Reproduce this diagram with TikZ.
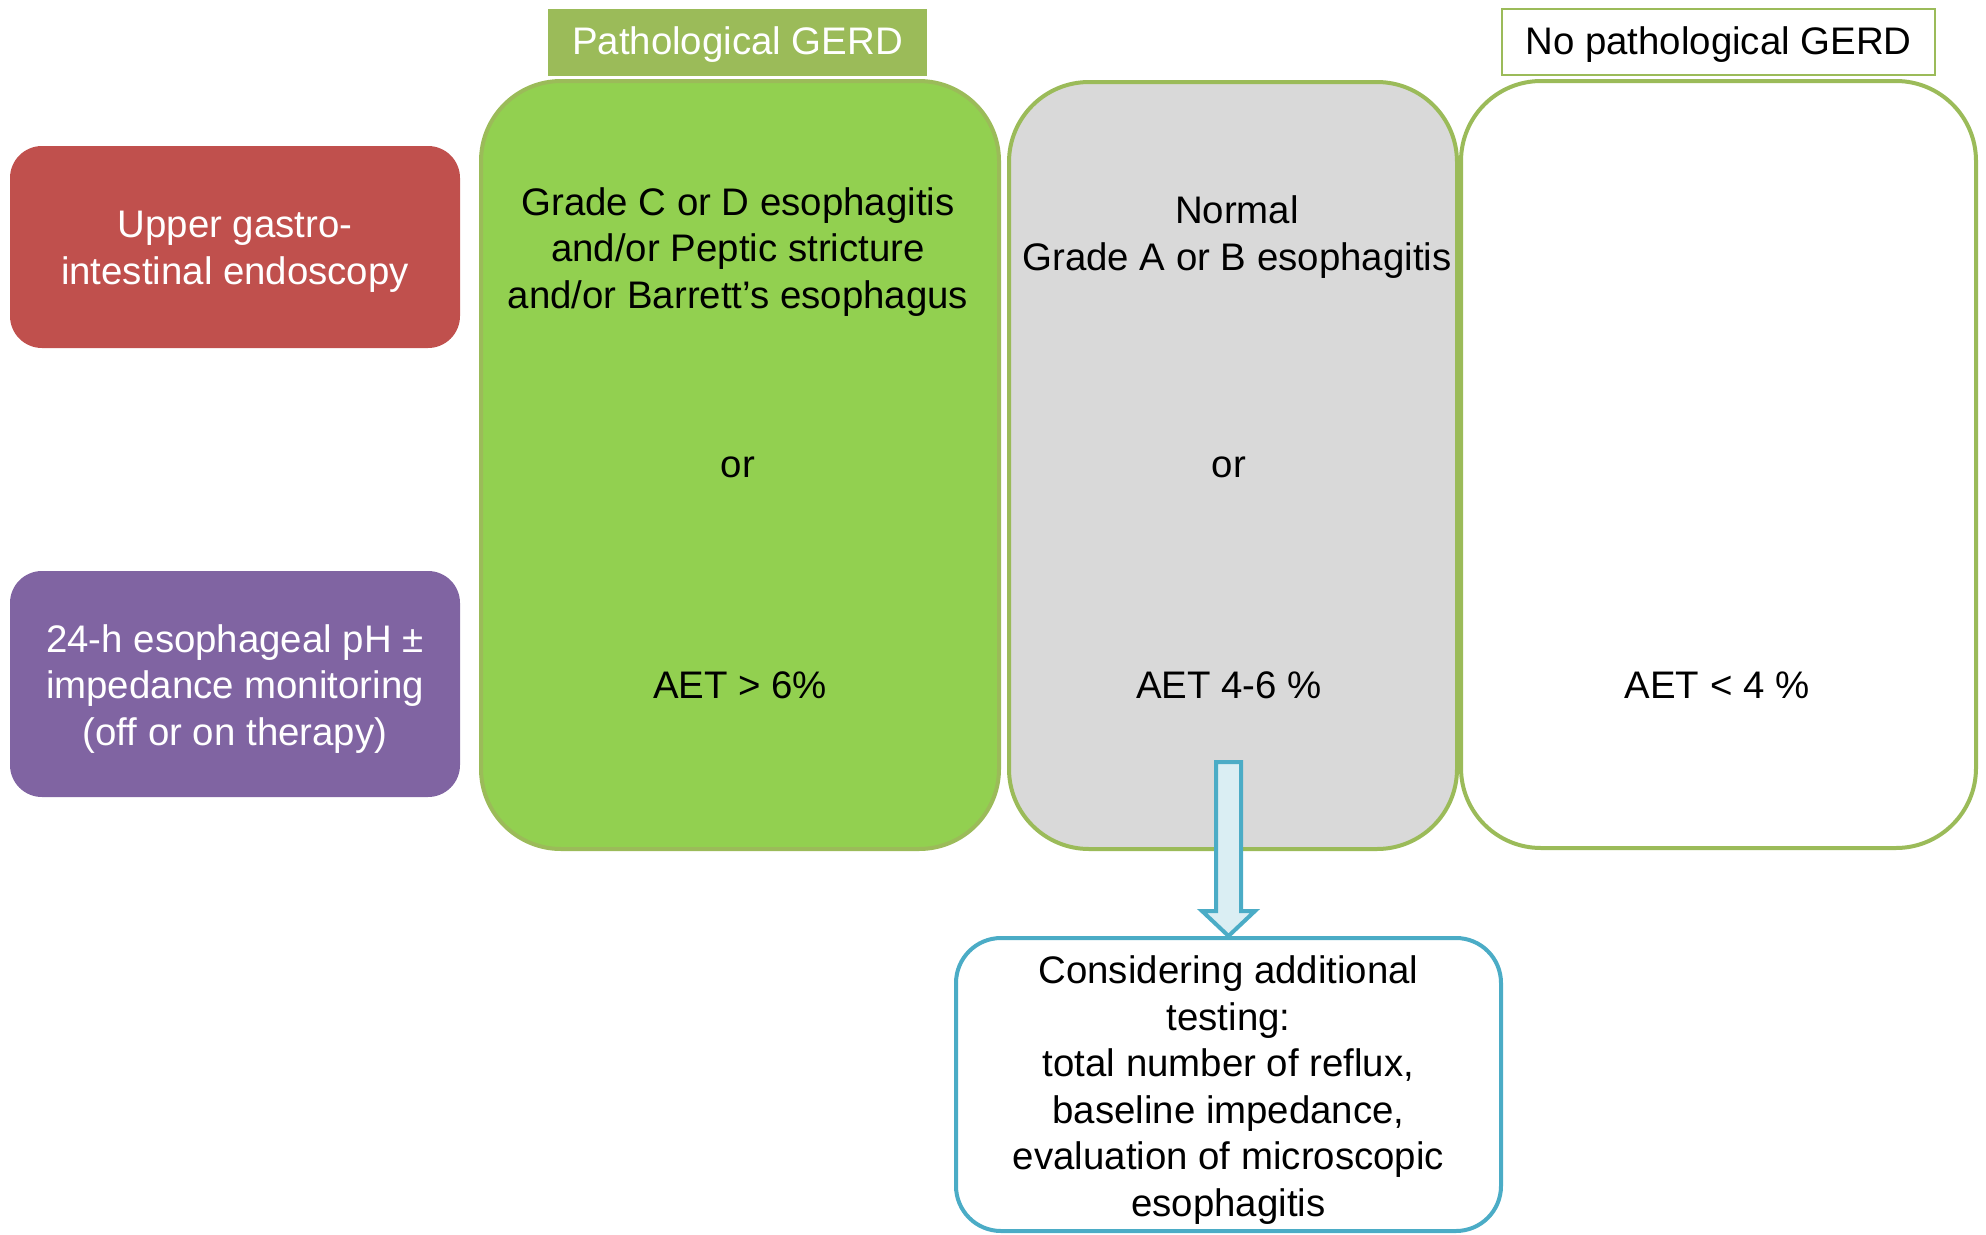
\documentclass[tikz,border=0pt]{standalone}
\usepackage{fontspec}
\setmainfont{Liberation Sans}
\usetikzlibrary{calc}
\definecolor{cred}{HTML}{C0504D}
\definecolor{cpurple}{HTML}{8064A2}
\definecolor{cgreen}{HTML}{92D050}
\definecolor{gline}{HTML}{9BBB59}
\definecolor{cgray}{HTML}{D9D9D9}
\definecolor{ccyan}{HTML}{4BACC6}
\definecolor{carrow}{HTML}{DAEEF3}
\begin{document}
\begin{tikzpicture}[x=1pt,y=-1pt,
  every node/.style={font=\fontsize{38.4}{46.5}\selectfont, align=center, inner sep=0pt},
  side/.style={rounded corners=32pt, minimum width=450pt},
  wtext/.style={text=white},
  col/.style={draw=gline, line width=4pt, rounded corners=80pt},
  arrowst/.style={draw=ccyan, fill=carrow, line width=4pt, line join=miter}]
\useasboundingbox (0,0) rectangle (1986,1234);

\node[side, fill=cred, minimum height=202pt] (endo) at (235,247) {};
\node[wtext] (endot) at (235,252) {Upper gastro-\\intestinal endoscopy};
\node[side, fill=cpurple, minimum height=226pt] (ph) at (235,684) {};
\node[wtext] (pht) at (235,689) {24-h esophageal pH ±\\impedance monitoring\\(off or on therapy)};

\node[col, fill=cgreen, minimum width=518pt, minimum height=768pt] (pgerd) at (740,465) {};
\node[col, fill=cgray, minimum width=448pt, minimum height=767pt] (mid) at (1233,465.5) {};
\node[col, fill=white, minimum width=515pt, minimum height=767pt] (nogerd) at (1718.5,464.5) {};

\node[fill=gline, minimum width=379pt, minimum height=67pt] (lab1) at (737.5,42.5) {};
\node[wtext] (lab1t) at (737.5,45) {Pathological GERD};
\node[draw=gline, line width=2pt, fill=white, minimum width=433pt, minimum height=66pt] (lab2) at (1718.5,42) {};
\node (lab2t) at (1718.5,44.5) {No pathological GERD};

\node (t1) at (738,252) {Grade C or D esophagitis\\and/or Peptic stricture\\and/or Barrett’s esophagus};
\node (o1) at (738,467) {or};
\node (a1) at (740,685) {AET > 6\%};
\node (t2) at (1237,237) {Normal\\Grade A or B esophagitis};
\node (o2) at (1229,467) {or};
\node (a2) at (1229,685) {AET 4-6 \%};
\node (a3) at (1717,685) {AET < 4 \%};

\node[draw=ccyan, line width=4pt, fill=white, rounded corners=45pt, minimum width=545pt, minimum height=293pt] (add) at (1228.5,1084.5) {};
\node (addt) at (1228.5,1090) {Considering additional\\testing:\\total number of reflux,\\baseline impedance,\\evaluation of microscopic\\esophagitis};

\coordinate (as) at (1228.5,762);
\draw[arrowst] ($(as)+(-12.5,0)$) -- ($(as)+(12.5,0)$) -- ($(add.north)+(12.5,-25)$) -- ($(add.north)+(26.5,-25)$) -- (add.north) -- ($(add.north)+(-26.5,-25)$) -- ($(add.north)+(-12.5,-25)$) -- cycle;
\end{tikzpicture}
\end{document}
